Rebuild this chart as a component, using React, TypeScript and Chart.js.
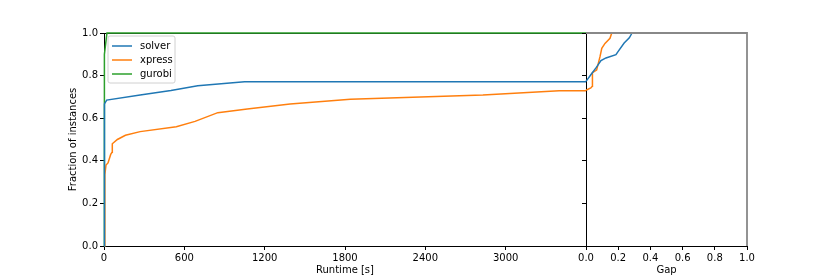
import React, { useEffect, useRef } from 'react';
import { Chart, registerables } from 'chart.js';
Chart.register(...registerables);

const seriesNames = ['solver', 'xpress', 'gurobi'];
const seriesColors = ['#1f77b4', '#ff7f0e', '#2ca02c'];

// Runtime panel (seconds vs fraction solved)
const solverRuntime = [0, 2, 5, 20, 270, 500, 700, 1050, 3600];
const solverRuntimeFrac = [0, 0.6, 0.667, 0.685, 0.709, 0.73, 0.752, 0.771, 0.771];
const xpressRuntime = [0, 5, 7, 15, 30, 50, 60, 62, 100, 160, 270, 540, 680, 850, 1070, 1390, 1840, 2830, 3400, 3600];
const xpressRuntimeFrac = [0, 0.2, 0.335, 0.38, 0.39, 0.43, 0.44, 0.48, 0.5, 0.52, 0.537, 0.56, 0.585, 0.626, 0.643, 0.667, 0.689, 0.709, 0.729, 0.729];
const gurobiRuntime = [0, 3, 22, 3600];
const gurobiRuntimeFrac = [0, 0.9, 1.0, 1.0];

// Gap panel
const solverGap = [0, 0.03, 0.062, 0.093, 0.124, 0.186, 0.2, 0.237, 0.269, 0.286];
const solverGapFrac = [0.773, 0.804, 0.836, 0.87, 0.883, 0.898, 0.914, 0.953, 0.977, 1.0];
const xpressGap = [0, 0.03, 0.039, 0.04, 0.066, 0.087, 0.098, 0.118, 0.149, 0.16];
const xpressGapFrac = [0.731, 0.742, 0.75, 0.814, 0.826, 0.889, 0.928, 0.951, 0.975, 1.0];

const runtimeTicks = [0, 600, 1200, 1800, 2400, 3000];
const gapTicks = [0, 0.2, 0.4, 0.6, 0.8, 1.0];
const fracTicks = [0, 0.2, 0.4, 0.6, 0.8, 1.0];

const FONT = { family: 'DejaVu Sans', size: 10 };

const pts = (xs: number[], ys: number[]) => xs.map((x, i) => ({ x, y: ys[i] }));

const ds = (label: string, color: string, data: any) => ({
  label,
  data,
  borderColor: color,
  backgroundColor: color,
  borderWidth: 1.5,
  pointRadius: 0,
  tension: 0,
  clip: 4,
});

const legendPlugin = {
  id: 'mplLegend',
  afterDatasetsDraw(chart: any) {
    const { ctx, chartArea } = chart;
    const x0 = chartArea.left + 4;
    const y0 = chartArea.top + 3;
    const w = 67;
    const h = 47;
    ctx.save();
    ctx.beginPath();
    const r = 2;
    ctx.moveTo(x0 + r, y0);
    ctx.lineTo(x0 + w - r, y0);
    ctx.arcTo(x0 + w, y0, x0 + w, y0 + r, r);
    ctx.lineTo(x0 + w, y0 + h - r);
    ctx.arcTo(x0 + w, y0 + h, x0 + w - r, y0 + h, r);
    ctx.lineTo(x0 + r, y0 + h);
    ctx.arcTo(x0, y0 + h, x0, y0 + h - r, r);
    ctx.lineTo(x0, y0 + r);
    ctx.arcTo(x0, y0, x0 + r, y0, r);
    ctx.closePath();
    ctx.fillStyle = 'rgba(255,255,255,0.8)';
    ctx.fill();
    ctx.strokeStyle = '#d0d0d0';
    ctx.lineWidth = 1;
    ctx.stroke();
    ctx.font = '10px "DejaVu Sans"';
    ctx.textBaseline = 'middle';
    ctx.textAlign = 'left';
    chart.data.datasets.forEach((d: any, i: number) => {
      const yy = y0 + 10 + i * 14;
      ctx.strokeStyle = d.borderColor;
      ctx.lineWidth = 1.5;
      ctx.beginPath();
      ctx.moveTo(x0 + 4, yy);
      ctx.lineTo(x0 + 24, yy);
      ctx.stroke();
      ctx.fillStyle = '#000';
      ctx.fillText(d.label, x0 + 32, yy);
    });
    ctx.restore();
  },
};

const grayFramePlugin = {
  id: 'grayFrame',
  afterDatasetsDraw(chart: any) {
    const { ctx, chartArea } = chart;
    ctx.save();
    ctx.strokeStyle = '#888888';
    ctx.lineWidth = 1.8;
    ctx.beginPath();
    ctx.moveTo(chartArea.left, chartArea.top);
    ctx.lineTo(chartArea.right, chartArea.top);
    ctx.lineTo(chartArea.right, chartArea.bottom);
    ctx.stroke();
    ctx.restore();
  },
};

const topSpinePlugin = {
  id: 'topSpine',
  beforeDatasetsDraw(chart: any) {
    const { ctx, chartArea } = chart;
    ctx.save();
    ctx.strokeStyle = '#000';
    ctx.lineWidth = 1;
    ctx.beginPath();
    ctx.moveTo(chartArea.left, chartArea.top + 0.5);
    ctx.lineTo(chartArea.right, chartArea.top + 0.5);
    ctx.stroke();
    ctx.restore();
  },
};

const axisCommon = {
  grid: { drawOnChartArea: false, drawTicks: true, tickLength: 4, color: '#000' },
  border: { display: true, color: '#000', width: 1 },
};

export default function App() {
  const leftRef = useRef<HTMLCanvasElement>(null);
  const rightRef = useRef<HTMLCanvasElement>(null);

  useEffect(() => {
    const left = new Chart(leftRef.current!, {
      type: 'line',
      data: {
        datasets: [
          ds(seriesNames[0], seriesColors[0], pts(solverRuntime, solverRuntimeFrac)),
          ds(seriesNames[1], seriesColors[1], pts(xpressRuntime, xpressRuntimeFrac)),
          ds(seriesNames[2], seriesColors[2], pts(gurobiRuntime, gurobiRuntimeFrac)),
        ] as any,
      },
      options: {
        responsive: false,
        animation: false,
        layout: { padding: { left: 0, right: 4, top: 33, bottom: 0 } },
        plugins: { legend: { display: false }, title: { display: false }, tooltip: { enabled: false } },
        scales: {
          x: {
            type: 'linear',
            min: 0,
            max: 3600,
            ...axisCommon,
            afterBuildTicks: (s: any) => { s.ticks = runtimeTicks.map((v) => ({ value: v })); },
            afterFit: (s: any) => { s.height = 31; },
            ticks: { font: FONT, color: '#000', padding: 2, maxRotation: 0, autoSkip: false, callback: (v: any) => String(v) },
            title: { display: true, text: 'Runtime [s]', font: FONT, color: '#000', padding: { top: 0, bottom: 1 } },
          },
          y: {
            type: 'linear',
            min: 0,
            max: 1,
            ...axisCommon,
            afterBuildTicks: (s: any) => { s.ticks = fracTicks.map((v) => ({ value: v })); },
            afterFit: (s: any) => { s.width = 104; },
            ticks: { font: FONT, color: '#000', padding: 2, callback: (v: any) => Number(v).toFixed(1) },
            title: { display: true, text: 'Fraction of instances', font: FONT, color: '#000', padding: { top: 67, bottom: 0 } },
          },
        },
      } as any,
      plugins: [topSpinePlugin, legendPlugin],
    });

    const right = new Chart(rightRef.current!, {
      type: 'line',
      data: {
        datasets: [
          ds(seriesNames[0], seriesColors[0], pts(solverGap, solverGapFrac)),
          ds(seriesNames[1], seriesColors[1], pts(xpressGap, xpressGapFrac)),
        ] as any,
      },
      options: {
        responsive: false,
        animation: false,
        layout: { padding: { left: 0, right: 83, top: 33, bottom: 0 } },
        plugins: { legend: { display: false }, title: { display: false }, tooltip: { enabled: false } },
        scales: {
          x: {
            type: 'linear',
            min: 0,
            max: 1,
            ...axisCommon,
            afterBuildTicks: (s: any) => { s.ticks = gapTicks.map((v) => ({ value: v })); },
            afterFit: (s: any) => { s.height = 31; },
            ticks: { font: FONT, color: '#000', padding: 2, maxRotation: 0, autoSkip: false, callback: (v: any) => Number(v).toFixed(1) },
            title: { display: true, text: 'Gap', font: FONT, color: '#000', padding: { top: 0, bottom: 1 } },
          },
          y: {
            type: 'linear',
            min: 0,
            max: 1,
            ...axisCommon,
            afterBuildTicks: (s: any) => { s.ticks = fracTicks.map((v) => ({ value: v })); },
            afterFit: (s: any) => { s.width = 10; },
            ticks: { display: false },
          },
        },
      } as any,
      plugins: [grayFramePlugin],
    });

    return () => {
      left.destroy();
      right.destroy();
    };
  }, []);

  return (
    <div style={{ position: 'fixed', left: 0, top: 0, width: 830, height: 277, background: '#fff' }}>
      <canvas ref={leftRef} width={590} height={277} style={{ position: 'absolute', left: 0, top: 0 }} />
      <canvas ref={rightRef} width={254} height={277} style={{ position: 'absolute', left: 576, top: 0 }} />
    </div>
  );
}
